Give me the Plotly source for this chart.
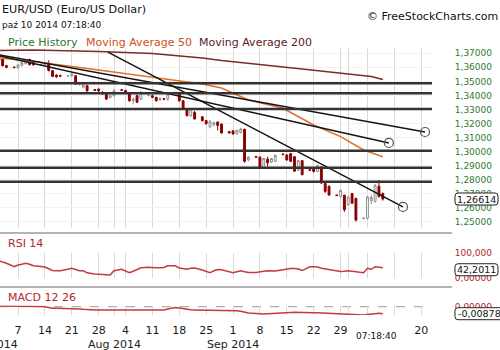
import plotly.graph_objects as go
import pandas as pd

# ------------------------------------------------------------------ data
dates = ["2014-07-02", "2014-07-03", "2014-07-04", "2014-07-06", "2014-07-07", "2014-07-08", "2014-07-09",
         "2014-07-10", "2014-07-11", "2014-07-13", "2014-07-14", "2014-07-15", "2014-07-16", "2014-07-17",
         "2014-07-18", "2014-07-20", "2014-07-21", "2014-07-22", "2014-07-23", "2014-07-24", "2014-07-25",
         "2014-07-27", "2014-07-28", "2014-07-29", "2014-07-30", "2014-07-31",
         "2014-08-01", "2014-08-03", "2014-08-04", "2014-08-05", "2014-08-06", "2014-08-07", "2014-08-08",
         "2014-08-10", "2014-08-11", "2014-08-12", "2014-08-13", "2014-08-14", "2014-08-15", "2014-08-17",
         "2014-08-18", "2014-08-19", "2014-08-20", "2014-08-21", "2014-08-22", "2014-08-24", "2014-08-25",
         "2014-08-26", "2014-08-27", "2014-08-28", "2014-08-29", "2014-08-31",
         "2014-09-01", "2014-09-02", "2014-09-03", "2014-09-04", "2014-09-05", "2014-09-07", "2014-09-08",
         "2014-09-09", "2014-09-10", "2014-09-11", "2014-09-12", "2014-09-14", "2014-09-15", "2014-09-16",
         "2014-09-17", "2014-09-18", "2014-09-19", "2014-09-21", "2014-09-22", "2014-09-23", "2014-09-24",
         "2014-09-25", "2014-09-26", "2014-09-28", "2014-09-29", "2014-09-30",
         "2014-10-01", "2014-10-02", "2014-10-03", "2014-10-05", "2014-10-06", "2014-10-07", "2014-10-08",
         "2014-10-09", "2014-10-10"]

opens = [1.3680, 1.3658, 1.3612, 1.3602, 1.3597, 1.3614, 1.3626, 1.3655, 1.3636, 1.3618, 1.3618, 1.3625,
         1.3576, 1.3545, 1.3542, 1.3537, 1.3540, 1.3540, 1.3478, 1.3458, 1.3469, 1.3442, 1.3445, 1.3422,
         1.3410, 1.3386,
         1.3398, 1.3440, 1.3435, 1.3410, 1.3362, 1.3398, 1.3374, 1.3398, 1.3398, 1.3386, 1.3372, 1.3376,
         1.3374, 1.3418, 1.3410, 1.3362, 1.3303, 1.3255, 1.3279, 1.3248, 1.3220, 1.3175, 1.3190, 1.3210,
         1.3195, 1.3142,
         1.3148, 1.3125, 1.3135, 1.3158, 1.2940, 1.2965, 1.2960, 1.2885, 1.2945, 1.2925, 1.2930, 1.2982,
         1.2975, 1.2985, 1.2963, 1.2868, 1.2935, 1.2870, 1.2880, 1.2858, 1.2890, 1.2773, 1.2752, 1.2690,
         1.2680, 1.2688,
         1.2620, 1.2700, 1.2666, 1.2522, 1.2525, 1.2648, 1.2645, 1.2752, 1.2700]
highs = [1.3690, 1.3665, 1.3618, 1.3605, 1.3622, 1.3640, 1.3655, 1.3662, 1.3640, 1.3624, 1.3632, 1.3650,
         1.3580, 1.3552, 1.3548, 1.3543, 1.3560, 1.3545, 1.3490, 1.3485, 1.3475, 1.3446, 1.3450, 1.3430,
         1.3418, 1.3405,
         1.3445, 1.3442, 1.3440, 1.3418, 1.3385, 1.3405, 1.3430, 1.3405, 1.3405, 1.3390, 1.3385, 1.3380,
         1.3420, 1.3425, 1.3415, 1.3366, 1.3308, 1.3310, 1.3290, 1.3250, 1.3225, 1.3225, 1.3215, 1.3215,
         1.3201, 1.3145,
         1.3150, 1.3158, 1.3168, 1.3162, 1.2965, 1.2968, 1.2965, 1.2955, 1.2963, 1.2955, 1.2980, 1.2985,
         1.2980, 1.2990, 1.2968, 1.2940, 1.2940, 1.2872, 1.2885, 1.2905, 1.2895, 1.2778, 1.2758, 1.2692,
         1.2728, 1.2692,
         1.2680, 1.2705, 1.2670, 1.2530, 1.2680, 1.2690, 1.2765, 1.2797, 1.2708]
lows = [1.3640, 1.3605, 1.3593, 1.3595, 1.3590, 1.3605, 1.3620, 1.3612, 1.3610, 1.3615, 1.3612, 1.3570,
        1.3530, 1.3525, 1.3530, 1.3535, 1.3535, 1.3475, 1.3470, 1.3450, 1.3425, 1.3432, 1.3425, 1.3405,
        1.3367, 1.3380,
        1.3390, 1.3433, 1.3420, 1.3355, 1.3335, 1.3345, 1.3365, 1.3395, 1.3380, 1.3355, 1.3360, 1.3365,
        1.3360, 1.3415, 1.3355, 1.3298, 1.3250, 1.3245, 1.3228, 1.3215, 1.3192, 1.3165, 1.3180, 1.3150,
        1.3128, 1.3130,
        1.3120, 1.3120, 1.3128, 1.2920, 1.2930, 1.2955, 1.2880, 1.2878, 1.2892, 1.2918, 1.2925, 1.2975,
        1.2935, 1.2925, 1.2855, 1.2860, 1.2830, 1.2862, 1.2850, 1.2852, 1.2770, 1.2705, 1.2685, 1.2684,
        1.2672, 1.2570,
        1.2615, 1.2625, 1.2500, 1.2518, 1.2515, 1.2625, 1.2635, 1.2672, 1.2650]
closes = [1.3648, 1.3612, 1.3600, 1.3598, 1.3617, 1.3634, 1.3650, 1.3620, 1.3619, 1.3621, 1.3626, 1.3578,
          1.3535, 1.3533, 1.3538, 1.3540, 1.3553, 1.3481, 1.3482, 1.3476, 1.3433, 1.3435, 1.3433, 1.3410,
          1.3374, 1.3398,
          1.3433, 1.3437, 1.3425, 1.3362, 1.3374, 1.3351, 1.3422, 1.3402, 1.3386, 1.3362, 1.3376, 1.3373,
          1.3410, 1.3422, 1.3362, 1.3303, 1.3255, 1.3303, 1.3232, 1.3220, 1.3198, 1.3212, 1.3205, 1.3185,
          1.3132, 1.3132,
          1.3125, 1.3150, 1.3160, 1.2930, 1.2960, 1.2960, 1.2885, 1.2950, 1.2920, 1.2950, 1.2972, 1.2978,
          1.2940, 1.2930, 1.2860, 1.2935, 1.2835, 1.2866, 1.2858, 1.2900, 1.2775, 1.2716, 1.2690, 1.2686,
          1.2722, 1.2585,
          1.2675, 1.2632, 1.2512, 1.2526, 1.2676, 1.2672, 1.2760, 1.2680, 1.26614]

rsi_values = [70, 66, 60, 46, 53, 56, 60, 56, 50, 47, 45, 38, 31, 30, 30, 36, 40, 35, 30, 30, 22, 17, 17, 16,
              14, 13,
              30, 36, 28, 22, 28, 34, 42, 44, 42, 42, 42, 43, 50, 50, 41, 38, 36, 40, 41, 33, 27, 22, 30, 35,
              34, 27,
              22, 26, 30, 26, 23, 23, 24, 28, 30, 29, 29, 34, 37, 39, 39, 37, 31, 46, 46, 45, 40, 37, 34, 29,
              27, 28,
              30, 28, 25, 22, 40, 36, 46, 44, 42.2011]

macd_values = [0.0010, 0.0010, 0.0010, 0.0009, 0.0008, 0.0008, 0.0008, 0.0007, 0.0006, 0.0003, 0.0000,
               -0.0010, -0.0018, -0.0020, -0.0020, -0.0020, -0.0019, -0.0022, -0.0028, -0.0033, -0.0038,
               -0.0041, -0.0041, -0.0041, -0.0042, -0.0041,
               -0.0040, -0.0040, -0.0040, -0.0041, -0.0042, -0.0041, -0.0040, -0.0040, -0.0040, -0.0040,
               -0.0041, -0.0040, -0.0030, -0.0010, -0.0015, -0.0025, -0.0035, -0.0038, -0.0040, -0.0041,
               -0.0042, -0.0043, -0.0044, -0.0045, -0.0046, -0.0048,
               -0.0050, -0.0052, -0.0058, -0.0070, -0.0080, -0.0086, -0.0090, -0.0091, -0.0088, -0.0084,
               -0.0080, -0.0076, -0.0075, -0.0073, -0.0071, -0.0070, -0.0071, -0.0073, -0.0075, -0.0077,
               -0.0080, -0.0083, -0.0084, -0.0086, -0.0090, -0.0095,
               -0.0097, -0.0100, -0.0103, -0.0104, -0.0098, -0.0090, -0.0084, -0.0083, -0.00878]

ma50_dates = ["2014-07-02", "2014-07-11", "2014-07-28", "2014-08-11", "2014-08-24", "2014-08-29",
              "2014-09-05", "2014-09-14", "2014-09-22", "2014-09-29", "2014-10-05", "2014-10-10"]
ma50_values = [1.3667, 1.3642, 1.3581, 1.3531, 1.3481, 1.3453, 1.3367, 1.3308, 1.3189, 1.3106, 1.3011, 1.2963]

ma200_dates = ["2014-07-02", "2014-07-11", "2014-07-28", "2014-08-11", "2014-08-24", "2014-08-29",
               "2014-09-19", "2014-10-07", "2014-10-10"]
ma200_values = [1.3720, 1.3723, 1.3713, 1.3699, 1.3667, 1.3649, 1.3588, 1.3535, 1.3513]

level_prices = [1.3486, 1.3415, 1.3303, 1.3006, 1.2885, 1.2785]

trend_start_dates = ["2014-07-02 06:00", "2014-07-02 06:00", "2014-07-30 10:00"]
trend_start_prices = [1.3688, 1.3681, 1.3709]
trend_end_dates = ["2014-10-21 00:00", "2014-10-11 14:00", "2014-10-15 06:00"]
trend_end_prices = [1.3139, 1.3061, 1.2605]

price_ticks = [1.25, 1.26, 1.27, 1.28, 1.29, 1.30, 1.31, 1.32, 1.33, 1.34, 1.35, 1.36, 1.37]
price_tick_labels = ["1,25000", "1,26000", "1,27000", "1,28000", "1,29000", "1,30000", "1,31000",
                     "1,32000", "1,33000", "1,34000", "1,35000", "1,36000", "1,37000"]
rsi_ticks = [0, 100]
rsi_tick_labels = ["0,00000", "100,000"]
macd_ticks = [0]
macd_tick_labels = ["0,00000"]

x_tick_dates = ["2014-07-07", "2014-07-14", "2014-07-21", "2014-07-28", "2014-08-01", "2014-08-04",
                "2014-08-11", "2014-08-18", "2014-08-25", "2014-09-01", "2014-09-08", "2014-09-15",
                "2014-09-22", "2014-09-29", "2014-10-01", "2014-10-06", "2014-10-13", "2014-10-20"]
x_tick_labels = ["7", "14", "21", "28", "", "4", "11", "18", "25", "1", "8", "15", "22", "29", "", "", "", "20"]
month_dates = ["2014-07-01", "2014-08-01", "2014-09-01"]
month_labels = ["Jul 2014", "Aug 2014", "Sep 2014"]

# ------------------------------------------------------------------ layout geometry (pixels)
W, H = 500, 350
PLOT_W = 432
FONT = "DejaVu Sans"
DAY_PX = 3.84
X_START = pd.Timestamp("2014-07-07") - pd.Timedelta(days=18 / DAY_PX)
X_END = X_START + pd.Timedelta(days=PLOT_W / DAY_PX)

MAIN_PX = (48, 228)
MAIN_RANGE = (1.24548, 1.37378)
RSI_PX = (253.3, 278.3)
RSI_RANGE = (0, 100)
MACD_PX = (305.5, 315.0)
MACD_RANGE = (-0.0104, 0.0015)


def px_x(px):
    return px / PLOT_W


def px_y(py):
    return 1 - py / H


def dom(pxs):
    return [px_y(pxs[1]), px_y(pxs[0])]


def val_px(v, pxs, rng):
    return pxs[0] + (rng[1] - v) / (rng[1] - rng[0]) * (pxs[1] - pxs[0])


def date_paper(d):
    t = pd.Timestamp(d)
    return (t - X_START) / (X_END - X_START)


GREEN = "#2e7d32"
RED_TXT = "#b3262a"
RED_LINE = "#c23b3e"

fig = go.Figure()

fig.add_trace(go.Candlestick(
    x=dates, open=opens, high=highs, low=lows, close=closes,
    increasing=dict(line=dict(color="#8f8f8f", width=1), fillcolor="#ffffff"),
    decreasing=dict(line=dict(color="#8b0000", width=1), fillcolor="#8b0000"),
    whiskerwidth=0, xaxis="x", yaxis="y", hoverinfo="skip", showlegend=False))

fig.add_trace(go.Scatter(x=ma200_dates, y=ma200_values, mode="lines",
                         line=dict(color="#7a2c2c", width=1.5), yaxis="y", hoverinfo="skip"))
fig.add_trace(go.Scatter(x=ma50_dates, y=ma50_values, mode="lines",
                         line=dict(color="#e2702a", width=1.5), yaxis="y", hoverinfo="skip"))

for sd, sp, ed, ep in zip(trend_start_dates, trend_start_prices, trend_end_dates, trend_end_prices):
    fig.add_trace(go.Scatter(x=[sd, ed], y=[sp, ep], mode="lines",
                             line=dict(color="#141414", width=1.5), yaxis="y", hoverinfo="skip"))
fig.add_trace(go.Scatter(x=trend_end_dates, y=trend_end_prices, mode="markers",
                         marker=dict(symbol="circle-open", size=9, color="#555555", line=dict(width=1.2)),
                         yaxis="y", hoverinfo="skip"))

fig.add_trace(go.Scatter(x=dates, y=rsi_values, mode="lines",
                         line=dict(color=RED_LINE, width=1.5), yaxis="y2", hoverinfo="skip"))
fig.add_trace(go.Scatter(x=dates, y=macd_values, mode="lines",
                         line=dict(color=RED_LINE, width=1.5), yaxis="y3", hoverinfo="skip"))

shapes = []
for lv in level_prices:
    shapes.append(dict(type="line", xref="paper", yref="y", x0=0, x1=1, y0=lv, y1=lv,
                       line=dict(color="#333333", width=2.5), layer="above"))
for sep in (233, 287):
    shapes.append(dict(type="line", xref="paper", yref="paper", x0=0, x1=px_x(452),
                       y0=px_y(sep), y1=px_y(sep), line=dict(color="#6b6b6b", width=1.2)))
shapes.append(dict(type="line", xref="paper", yref="y3", x0=0, x1=1, y0=0, y1=0,
                   line=dict(color="#9a9a9a", width=1, dash="dash"), layer="below"))


def rounded_box(x0, x1, cy_px, h_px, r=3):
    y0, y1 = cy_px - h_px / 2, cy_px + h_px / 2

    def P(x, y):
        return f"{px_x(x):.5f},{px_y(y):.5f}"
    path = (f"M {P(x0 + r, y0)} L {P(x1 - r, y0)} Q {P(x1, y0)} {P(x1, y0 + r)} "
            f"L {P(x1, y1 - r)} Q {P(x1, y1)} {P(x1 - r, y1)} L {P(x0 + r, y1)} "
            f"Q {P(x0, y1)} {P(x0, y1 - r)} L {P(x0, y0 + r)} Q {P(x0, y0)} {P(x0 + r, y0)} Z")
    return dict(type="path", xref="paper", yref="paper", path=path,
                fillcolor="white", line=dict(color="#222222", width=1), layer="above")


last_close_px = val_px(closes[-1], MAIN_PX, MAIN_RANGE)
last_rsi_px = val_px(rsi_values[-1], RSI_PX, RSI_RANGE) + 2
last_macd_px = val_px(macd_values[-1], MACD_PX, MACD_RANGE)
shapes.append(rounded_box(455, 498, last_close_px, 12))
shapes.append(rounded_box(455, 498, last_rsi_px, 12))
shapes.append(rounded_box(455, 503, last_macd_px, 12))


def ann(text, x, y, size, color, xanchor="left", yanchor="middle", xref="paper", yref="paper"):
    return dict(text=text, x=x, y=y, xref=xref, yref=yref, xanchor=xanchor, yanchor=yanchor,
                showarrow=False, font=dict(family=FONT, size=size, color=color), borderpad=0)


anns = [
    ann("EUR/USD (Euro/US Dollar)", px_x(1), px_y(9.5), 11.2, "#111111"),
    ann("paź 10 2014 07:18:40", px_x(1), px_y(24.7), 9, "#111111"),
    ann("© FreeStockCharts.com", px_x(499), px_y(16.7), 11, "#111111", xanchor="right"),
    ann("Price History", px_x(7.3), px_y(42.7), 11, "#2a7a2a"),
    ann("Moving Average 50", px_x(85), px_y(42.7), 11, "#d0501c"),
    ann("Moving Average 200", px_x(198), px_y(42.7), 11, "#5a1a1a"),
    ann("RSI 14", px_x(7.3), px_y(243.7), 11, RED_TXT),
    ann("MACD 12 26", px_x(7.3), px_y(297.5), 11, RED_TXT),
    ann("07:18:40", date_paper(dates[-1]) - px_x(6), px_y(336), 9, "#111111", xanchor="center"),
    ann(f"{closes[-1]:.5f}".replace(".", ","), px_x(476.5), px_y(last_close_px), 9.5, "#111111",
        xanchor="center"),
    ann(f"{rsi_values[-1]:.4f}".replace(".", ","), px_x(476.5), px_y(last_rsi_px), 9.5, "#111111",
        xanchor="center"),
    ann(f"{macd_values[-1]:.5f}".replace(".", ","), px_x(479), px_y(last_macd_px), 9.5, "#111111",
        xanchor="center"),
]
for md, ml in zip(month_dates, month_labels):
    anns.append(ann(ml, date_paper(md), px_y(344), 11, "#1a1a1a", xanchor="center"))

yaxis_common = dict(side="right", anchor="x", zeroline=False, showline=False, ticks="outside",
                    ticklen=20, tickcolor="rgba(0,0,0,0)", fixedrange=True, automargin=False)

fig.update_layout(
    width=W, height=H, margin=dict(l=0, r=W - PLOT_W, t=0, b=0, pad=0, autoexpand=False),
    paper_bgcolor="white", plot_bgcolor="white", showlegend=False,
    font=dict(family=FONT),
    xaxis=dict(type="date", range=[X_START, X_END], domain=[0, 1], anchor="y3",
               tickvals=x_tick_dates, ticktext=x_tick_labels, showgrid=True, gridcolor="#d9d9d9",
               gridwidth=1, ticks="outside", ticklen=5, tickcolor="rgba(0,0,0,0)",
               tickfont=dict(family=FONT, size=11, color="#1a1a1a"), showline=False, zeroline=False,
               rangeslider=dict(visible=False), fixedrange=True, automargin=False),
    yaxis=dict(domain=dom(MAIN_PX), range=list(MAIN_RANGE), tickvals=price_ticks,
               ticktext=price_tick_labels, showgrid=True, gridcolor="#f1f1f1",
               tickfont=dict(family=FONT, size=9, color=GREEN), **yaxis_common),
    yaxis2=dict(domain=dom(RSI_PX), range=list(RSI_RANGE), tickvals=rsi_ticks, ticktext=rsi_tick_labels,
                showgrid=True, gridcolor="#f1f1f1",
                tickfont=dict(family=FONT, size=9, color=RED_TXT), **yaxis_common),
    yaxis3=dict(domain=dom(MACD_PX), range=list(MACD_RANGE), tickvals=macd_ticks,
                ticktext=macd_tick_labels, showgrid=False,
                tickfont=dict(family=FONT, size=9, color=RED_TXT), **yaxis_common),
    shapes=shapes, annotations=anns,
)

fig.write_html("out.html")
